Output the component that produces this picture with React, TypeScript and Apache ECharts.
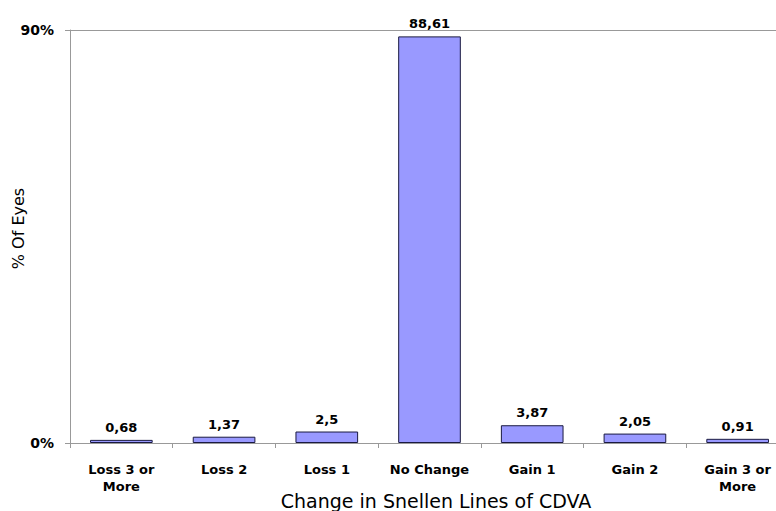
import React, { useEffect, useRef } from "react";
import * as echarts from "echarts";

const categories = ["Loss 3 or\nMore", "Loss 2", "Loss 1", "No Change", "Gain 1", "Gain 2", "Gain 3 or\nMore"];
const percentEyes = [0.68, 1.37, 2.5, 88.61, 3.87, 2.05, 0.91];
const yTicks = [0, 90];

const FONT = "DejaVu Sans, Verdana, sans-serif";

export default function App() {
  const ref = useRef<HTMLDivElement>(null);

  useEffect(() => {
    if (!ref.current) return;
    const chart = echarts.init(ref.current, undefined, { renderer: "svg" });
    chart.setOption({
      animation: false,
      backgroundColor: "#ffffff",
      grid: {
        left: 70,
        top: 30,
        width: 719,
        height: 413,
        containLabel: false,
        outerBoundsMode: "none",
      },
      xAxis: {
        type: "category",
        data: categories,
        name: "Change in Snellen Lines of CDVA",
        nameLocation: "middle",
        nameGap: 48,
        nameMoveOverlap: false,
        nameTextStyle: { fontFamily: FONT, fontSize: 19, color: "#000", padding: [0, 0, 0, 13] },
        axisLine: { lineStyle: { color: "#999999", width: 1 } },
        axisTick: { show: true, length: 5, lineStyle: { color: "#999999" } },
        axisLabel: {
          margin: 18,
          fontFamily: FONT,
          fontSize: 13,
          fontWeight: "bold",
          color: "#000",
          lineHeight: 17,
          interval: 0,
        },
      },
      yAxis: {
        type: "value",
        min: yTicks[0],
        max: yTicks[1],
        interval: yTicks[1] - yTicks[0],
        name: "% Of Eyes",
        nameLocation: "middle",
        nameGap: 44,
        nameMoveOverlap: false,
        nameRotate: 90,
        nameTextStyle: { fontFamily: FONT, fontSize: 16, color: "#000", padding: [0, 0, 0, 16] },
        axisLine: { show: true, lineStyle: { color: "#999999", width: 1 } },
        axisTick: { show: true, length: 5, lineStyle: { color: "#999999" } },
        splitLine: { show: true, lineStyle: { color: "#999999", width: 1 } },
        axisLabel: {
          margin: 16,
          fontFamily: FONT,
          fontSize: 14,
          fontWeight: "bold",
          color: "#000",
          formatter: "{value}%",
        },
      },
      series: [
        {
          type: "bar",
          data: percentEyes,
          barCategoryGap: "39%",
          itemStyle: { color: "#9999ff", borderColor: "#1a1a40", borderWidth: 1 },
          label: {
            show: true,
            position: "top",
            distance: 6,
            fontFamily: FONT,
            fontSize: 13,
            fontWeight: "bold",
            color: "#000",
            formatter: (p: any) => String(p.value).replace(".", ","),
          },
        },
      ],
    });
    return () => chart.dispose();
  }, []);

  return (
    <div
      ref={ref}
      style={{ position: "fixed", left: 0, top: 0, width: 776, height: 511, overflow: "hidden" }}
    />
  );
}
